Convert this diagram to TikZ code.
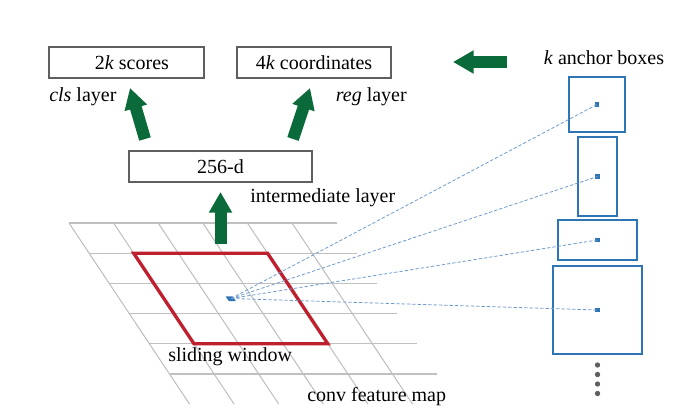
\documentclass[tikz,border=0pt]{standalone}
\usepackage{fontspec}
\setmainfont{Liberation Serif}
\usetikzlibrary{arrows.meta}
\definecolor{arrowgreen}{RGB}{10,106,58}
\definecolor{windowred}{RGB}{190,32,46}
\definecolor{anchorblue}{RGB}{46,117,182}
\definecolor{dashblue}{RGB}{110,155,205}
\definecolor{gridgray}{RGB}{192,192,192}
\definecolor{boxgray}{RGB}{95,95,95}
\def\anchorbox#1#2#3#4{\node[anchorframe, minimum width=#3, minimum height=#4] (#1) at #2 {};
    \fill[anchorblue] (#1.center) +(-2.3,-2.3) rectangle +(2.3,2.3);}

\begin{document}
\begin{tikzpicture}[x=0.75pt, y=-0.75pt,
				every node/.style={font=\rmfamily\fontsize{15}{18}\selectfont},
				layerbox/.style={draw=boxgray, line width=0.8pt, inner sep=0pt, minimum height=23.25pt},
				anchorframe/.style={draw=anchorblue, line width=1.1pt, inner sep=0pt},
				bigarrow/.style={arrowgreen, line width=9pt, -{Triangle[width=16.5pt, length=15.5pt]}},
				gridline/.style={gridgray, line width=0.8pt},
				dashline/.style={dashblue, line width=0.6pt, dash pattern=on 2.5pt off 1.5pt}]
			\useasboundingbox (0,0) rectangle (688,420);
			\foreach \i in {0,...,5}
				\draw[gridline] (69+\i*20.1, 223+\i*30.2) -- ++(267.6,0);
			\foreach \j in {0,...,5}
				\draw[gridline] (69+\j*44.6, 223) -- ++(120.6,181.2);
			\draw[windowred, line width=2.5pt, line join=miter]
				(133.7,253.2) -- (267.5,253.2) -- (327.8,343.8) -- (194,343.8) -- cycle;
			\coordinate (ctr) at (231,298.5);
			\fill[anchorblue] (225.5,296.3) -- (232.5,296.3) -- (235.8,301) -- (228.8,301) -- cycle;

			\node[layerbox, minimum width=116.25pt] (scores) at (126.5,62.5) {\hspace*{8pt}2\textit{k} scores};
			\node[layerbox, minimum width=115.5pt] (coords) at (314,62.5) {4\textit{k} coordinates};
			\node[layerbox, minimum width=137.25pt] (inter) at (220.5,166.5) {256-d};
			\node[anchor=west, inner sep=0pt] (clslabel) at (49,97) {\textit{cls} layer};
			\node[anchor=east, inner sep=0pt] (reglabel) at (407,97) {\textit{reg} layer};
			\node[anchor=west, inner sep=0pt] (interlabel) at (250,198) {intermediate layer};
			\node[inner sep=0pt] (anchorlabel) at (604,58) {\textit{k} anchor boxes};
			\node[anchor=west, inner sep=0pt] (windowlabel) at (168,357) {sliding window};
			\node[anchor=west, inner sep=0pt] (maplabel) at (307,397) {conv feature map};

			\coordinate (clstail) at (145,139);
			\coordinate (clstip) at (130,88);
			\coordinate (regtail) at (293,139);
			\coordinate (regtip) at (310,88);
			\coordinate (midtail) at (220.5,244);
			\coordinate (midtip) at (220.5,192);
			\coordinate (lefttail) at (507,62);
			\coordinate (lefttip) at (453,62);
			\draw[bigarrow] (clstail) -- (clstip);
			\draw[bigarrow] (regtail) -- (regtip);
			\draw[bigarrow] (midtail) -- (midtip);
			\draw[bigarrow] (lefttail) -- (lefttip);

			\anchorbox{boxa}{(597,104.5)}{42pt}{41.25pt}
			\anchorbox{boxb}{(597.5,176.5)}{29.25pt}{59.25pt}
			\anchorbox{boxc}{(597.5,240)}{59.25pt}{30pt}
			\anchorbox{boxd}{(597.5,310)}{66.75pt}{66pt}
			\foreach \b in {boxa,boxb,boxc,boxd}
				\draw[dashline] (ctr) -- (\b.center);
			\foreach \y in {365,374.5,384,393.5}
				\fill[boxgray] (597.5,\y) circle[radius=2pt];
		\end{tikzpicture}
\end{document}
